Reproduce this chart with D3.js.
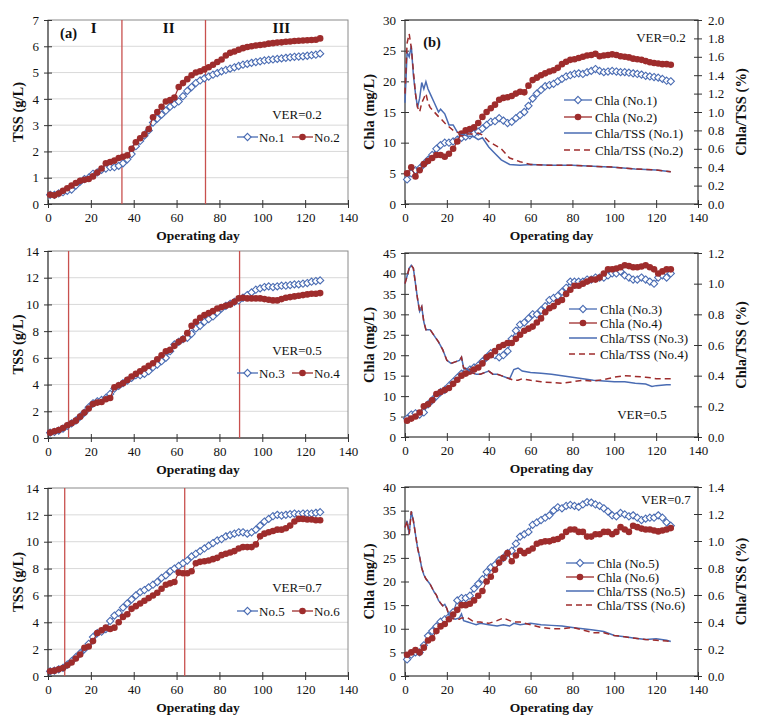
<!DOCTYPE html>
<html><head><meta charset="utf-8">
<script src="https://cdn.jsdelivr.net/npm/d3@7"></script>
<style>body{margin:0;background:#fff}</style>
</head><body><svg id="c" width="767" height="720" xmlns="http://www.w3.org/2000/svg"></svg>
<script>
// ---------- DATA ----------
const days = [1,3,5,7,9,11,13,15,17,19,21,23,25,27,29,31,33,35,37,39,41,43,45,47,49,51,53,55,57,59,61,63,65,67,69,71,73,75,77,79,81,83,85,87,89,91,93,95,97,99,101,103,105,107,109,111,113,115,117,119,121,123,125,127];
const xTicks = [0,20,40,60,80,100,120,140];

// (a) TSS, VER=0.2
const tssNo1 = [0.35,0.35,0.4,0.45,0.5,0.55,0.7,0.85,0.95,1.0,1.15,1.2,1.3,1.35,1.4,1.4,1.45,1.55,1.7,1.9,2.2,2.4,2.6,2.8,3.1,3.25,3.4,3.55,3.7,3.8,3.9,4.1,4.3,4.45,4.6,4.7,4.78,4.85,4.92,4.98,5.05,5.1,5.15,5.2,5.25,5.3,5.33,5.37,5.4,5.43,5.46,5.48,5.5,5.52,5.54,5.56,5.58,5.6,5.61,5.62,5.64,5.66,5.68,5.72];
const tssNo2 = [0.35,0.33,0.4,0.5,0.6,0.7,0.8,0.88,0.92,0.95,1.05,1.2,1.35,1.55,1.6,1.65,1.75,1.8,1.85,2.1,2.35,2.5,2.65,2.85,3.3,3.5,3.7,3.9,3.95,4.05,4.45,4.6,4.75,4.9,5.0,5.05,5.12,5.2,5.3,5.4,5.5,5.65,5.75,5.8,5.87,5.93,5.97,6.0,6.03,6.05,6.07,6.1,6.12,6.14,6.15,6.17,6.18,6.2,6.21,6.22,6.23,6.24,6.25,6.3];
const phaseA = [34.5, 73.5];

// (b) Chla, VER=0.2
const chlaNo1 = [4.0,5.0,5.5,5.8,6.5,7.2,8.0,9.0,9.6,10.0,10.0,10.2,10.5,10.8,11.0,11.2,11.5,11.8,12.3,12.9,13.4,13.5,14.0,13.6,13.2,13.4,14.0,14.5,15.0,16.0,17.2,18.0,18.6,19.2,19.4,19.6,20.0,20.4,20.8,21.0,21.2,21.3,21.2,21.5,21.7,22.0,21.7,21.5,21.6,21.7,21.6,21.5,21.5,21.4,21.3,21.2,21.1,20.9,20.8,20.7,20.6,20.4,20.1,20.0];
const chlaNo2 = [5.0,6.0,4.5,5.5,6.5,7.0,7.5,8.0,8.0,7.7,8.2,9.0,10.2,11.5,12.0,12.2,12.5,13.2,14.2,15.0,15.6,16.2,17.0,17.3,17.4,17.6,18.0,18.3,18.2,19.3,20.2,20.6,21.0,21.3,21.6,21.8,22.2,22.8,23.2,23.5,23.6,23.8,24.0,24.2,24.3,24.5,24.1,24.2,24.3,24.4,24.3,24.1,24.0,23.9,23.7,23.6,23.5,23.3,23.1,23.0,22.9,22.8,22.8,22.7];
const ratioDaysB = [0,1,2,3,4,5,6,7,8,9,10,11,12,14,16,17,19,21,23,25,27,30,33,35,37,40,43,46,50,55,60,70,80,90,100,110,120,127];
const ratioNo1 = [1.1,1.65,1.6,1.72,1.4,1.2,1.05,1.15,1.32,1.25,1.33,1.25,1.2,1.1,1.0,1.03,0.98,0.86,0.86,0.78,0.76,0.74,0.73,0.7,0.72,0.62,0.55,0.48,0.43,0.42,0.43,0.42,0.42,0.41,0.4,0.38,0.37,0.35];
const ratioNo2 = [1.2,1.75,1.85,1.7,1.45,1.2,1.05,1.0,1.1,1.15,1.2,1.1,1.05,1.0,0.95,0.93,0.88,0.84,0.8,0.78,0.77,0.76,0.76,0.77,0.75,0.68,0.64,0.6,0.5,0.46,0.43,0.42,0.42,0.41,0.4,0.38,0.37,0.35];

// (c) TSS, VER=0.5
const tssNo3 = [0.4,0.45,0.55,0.7,0.9,1.1,1.3,1.6,1.9,2.3,2.6,2.75,2.85,3.0,3.3,3.7,3.9,4.1,4.3,4.5,4.7,4.7,4.8,5.0,5.3,5.5,5.75,6.0,6.5,7.0,7.2,7.4,7.5,7.8,8.2,8.4,8.7,8.9,9.1,9.4,9.7,9.9,10.05,10.2,10.3,10.5,10.7,10.9,11.1,11.2,11.3,11.35,11.3,11.35,11.4,11.4,11.45,11.5,11.5,11.55,11.6,11.7,11.75,11.8];
const tssNo4 = [0.4,0.5,0.6,0.75,0.95,1.1,1.3,1.6,1.9,2.2,2.55,2.65,2.7,2.9,3.0,3.8,3.95,4.1,4.35,4.6,4.8,5.0,5.2,5.4,5.6,5.9,6.2,6.5,6.6,6.9,7.2,7.4,7.85,8.4,8.7,9.0,9.2,9.35,9.5,9.7,9.8,9.9,10.0,10.2,10.45,10.5,10.45,10.45,10.45,10.45,10.4,10.35,10.3,10.3,10.4,10.5,10.55,10.6,10.65,10.7,10.75,10.8,10.8,10.85];
const phaseC = [9.6, 89.4];

// (d) Chla, VER=0.5
const chlaNo3 = [4.5,5.5,5.8,5.5,6.0,8.0,9.0,10.0,11.0,11.5,12.5,13.5,14.5,15.5,16.0,16.5,17.0,17.5,18.5,19.5,20.5,20.0,19.5,20.0,21.0,24.0,26.0,27.5,28.0,29.0,30.0,30.0,31.0,32.0,33.5,34.0,34.5,35.5,36.5,38.0,38.0,38.0,38.0,38.5,38.5,39.0,39.0,39.0,39.5,40.0,40.0,40.5,39.5,39.0,38.5,38.5,39.0,38.5,38.0,37.5,39.0,39.5,39.0,40.0];
const chlaNo4 = [4.0,4.5,5.0,6.0,7.5,8.0,9.0,10.5,11.0,11.5,12.0,13.0,14.0,15.0,15.5,16.0,16.5,17.0,18.0,19.5,20.0,21.0,22.0,22.5,23.0,23.0,24.0,25.0,26.0,26.5,27.0,28.0,29.0,30.5,31.5,32.0,33.0,33.5,35.0,36.0,37.0,37.0,37.5,38.0,38.5,38.5,39.0,40.0,41.0,41.0,41.2,41.5,42.0,41.8,41.5,41.5,41.7,42.0,41.5,41.0,40.0,40.5,41.0,41.0];
const ratioDaysD = [0,1,2,3,4,5,6,7,8,9,10,12,14,16,18,20,22,24,26,27,28,30,32,34,36,38,40,42,44,46,48,50,52,54,56,60,65,70,75,80,85,90,95,100,105,110,115,118,120,125,127];
const ratioNo3 = [1.0,1.05,1.1,1.12,1.1,1.0,0.9,0.82,0.85,0.75,0.7,0.7,0.66,0.62,0.57,0.5,0.48,0.49,0.5,0.52,0.45,0.44,0.42,0.41,0.41,0.42,0.43,0.41,0.41,0.4,0.39,0.38,0.44,0.45,0.43,0.42,0.415,0.41,0.4,0.39,0.38,0.37,0.365,0.36,0.36,0.35,0.345,0.33,0.335,0.34,0.34];
const ratioNo4 = [1.0,1.05,1.1,1.12,1.1,1.0,0.9,0.82,0.85,0.75,0.7,0.7,0.66,0.62,0.57,0.5,0.48,0.49,0.5,0.52,0.45,0.44,0.42,0.41,0.41,0.42,0.43,0.41,0.41,0.4,0.39,0.38,0.37,0.37,0.38,0.37,0.36,0.355,0.35,0.36,0.37,0.365,0.375,0.39,0.4,0.395,0.39,0.385,0.38,0.38,0.38];

// (e) TSS, VER=0.7
const tssNo5 = [0.35,0.4,0.5,0.6,0.85,1.1,1.4,1.7,2.0,2.4,2.9,3.2,3.3,3.5,4.1,4.5,4.7,5.1,5.4,5.7,6.0,6.25,6.4,6.6,6.8,7.0,7.3,7.5,7.8,8.0,8.2,8.4,8.6,8.9,9.1,9.3,9.5,9.7,9.9,10.1,10.2,10.4,10.5,10.6,10.7,10.7,10.6,10.7,10.9,11.2,11.5,11.7,11.9,12.0,11.95,12.0,12.05,12.1,12.05,12.1,12.1,12.1,12.15,12.2];
const tssNo6 = [0.35,0.4,0.5,0.6,0.8,1.0,1.3,1.6,2.1,2.2,2.6,3.2,3.4,3.6,3.5,3.6,4.0,4.4,4.6,5.0,5.2,5.4,5.6,5.8,6.0,6.2,6.5,6.8,6.9,7.0,7.7,7.65,7.65,7.8,8.4,8.5,8.55,8.6,8.7,8.8,9.0,9.1,9.2,9.3,9.5,9.6,9.6,9.6,9.8,10.4,10.6,10.7,10.8,10.9,10.9,11.0,11.2,11.5,11.7,11.7,11.65,11.65,11.6,11.6];
const phaseE = [7.8, 63.8];

// (f) Chla, VER=0.7
const chlaNo5 = [3.5,4.5,5.0,5.0,6.5,8.5,9.5,10.5,11.5,12.0,12.5,13.5,16.0,16.5,16.5,17.0,18.5,19.5,20.5,22.0,23.0,23.5,24.5,25.0,26.0,26.5,28.0,29.5,30.0,30.5,32.0,32.5,33.0,33.5,34.0,35.0,35.7,35.5,36.0,36.2,36.0,35.8,36.3,36.8,36.7,36.3,36.0,35.5,34.8,34.0,33.8,34.5,34.2,33.8,34.0,33.5,33.0,33.3,33.5,33.5,34.0,33.5,32.5,31.8];
const chlaNo6 = [4.5,5.0,5.5,5.0,6.0,7.5,8.0,9.5,10.5,11.0,12.0,13.0,14.0,15.0,15.0,15.3,16.0,17.0,18.0,20.0,21.0,22.5,24.0,25.0,26.0,24.3,25.5,26.5,26.0,26.5,27.0,28.0,28.3,28.5,28.5,28.8,29.0,29.5,30.5,31.0,31.0,30.5,30.5,29.5,29.5,30.0,30.0,30.5,30.5,30.0,30.5,31.5,31.0,30.5,31.8,31.5,31.2,31.0,31.0,30.8,30.6,30.8,31.0,31.3];
const ratioDaysF = [0,1,2,3,4,5,6,7,8,9,10,11,12,13,14,15,16,17,18,19,20,21,22,24,26,27,28,30,32,34,36,40,44,47,50,52,55,60,65,70,75,80,85,90,95,100,105,110,115,120,125,127];
const ratioNo5 = [1.1,1.15,1.05,1.22,1.15,1.05,0.95,0.88,0.8,0.75,0.72,0.7,0.68,0.65,0.62,0.6,0.56,0.54,0.52,0.53,0.5,0.45,0.43,0.42,0.43,0.46,0.41,0.4,0.39,0.38,0.39,0.38,0.37,0.38,0.37,0.39,0.38,0.39,0.38,0.375,0.37,0.36,0.35,0.34,0.33,0.3,0.29,0.28,0.27,0.275,0.265,0.255];
const ratioNo6 = [1.1,1.15,1.05,1.22,1.15,1.05,0.95,0.88,0.8,0.75,0.72,0.7,0.68,0.65,0.62,0.6,0.56,0.54,0.52,0.53,0.5,0.45,0.43,0.42,0.42,0.43,0.43,0.43,0.41,0.4,0.4,0.39,0.41,0.43,0.41,0.4,0.4,0.38,0.36,0.35,0.35,0.36,0.34,0.32,0.32,0.3,0.29,0.28,0.27,0.265,0.26,0.255];

// ---------- STYLE ----------
const BLUE = "#4a6cb3", RED = "#9e2c2c", VLINE = "#c8504e";
const SERIF = "'Liberation Serif','Times New Roman',serif";
const svg = d3.select("#c");
svg.append("rect").attr("width",767).attr("height",720).attr("fill","#fff");

const diamond = "M0,-3.6L3.6,0L0,3.6L-3.6,0Z";
function markerBlue(g, x, y){ g.append("path").attr("d",diamond).attr("transform",`translate(${x},${y})`).attr("fill","#fff").attr("stroke",BLUE).attr("stroke-width",1.1); }
function markerRed(g, x, y){ g.append("circle").attr("cx",x).attr("cy",y).attr("r",3.3).attr("fill",RED); }

function xAxis(g, x, yb){
  const ax = g.append("g").attr("transform",`translate(0,${yb})`)
    .call(d3.axisBottom(x).tickValues(xTicks).tickSize(4).tickPadding(5).tickSizeOuter(0));
  ax.select(".domain").remove();
  ax.selectAll(".tick line").attr("y1",-4).attr("stroke","#333");
  ax.selectAll("text").attr("font-family",SERIF).attr("font-size",13).attr("fill","#111");
}
function yAxisL(g, y, x0, ticks, fmt){
  const ax = g.append("g").attr("transform",`translate(${x0},0)`)
    .call(d3.axisLeft(y).tickValues(ticks).tickSize(4).tickPadding(5).tickFormat(fmt||d3.format("d")));
  ax.select(".domain").remove();
  ax.selectAll(".tick line").attr("x1",4).attr("stroke","#333");
  ax.selectAll("text").attr("font-family",SERIF).attr("font-size",13).attr("fill","#111");
}
function yAxisR(g, y, x1, ticks){
  const ax = g.append("g").attr("transform",`translate(${x1},0)`)
    .call(d3.axisRight(y).tickValues(ticks).tickSize(4).tickPadding(6).tickFormat(d3.format(".1f")));
  ax.select(".domain").remove();
  ax.selectAll(".tick line").attr("x1",-4).attr("stroke","#333");
  ax.selectAll("text").attr("font-family",SERIF).attr("font-size",13).attr("fill","#111");
}
function boldText(g, x, y, t, size, rot){
  const el = g.append("text").attr("font-family",SERIF).attr("font-weight","bold").attr("font-size",size)
    .attr("text-anchor","middle").attr("fill","#111").text(t);
  if (rot) el.attr("transform",`translate(${x},${y}) rotate(-90)`).attr("dy","0.35em");
  else el.attr("x",x).attr("y",y).attr("dy","0.35em");
  return el;
}
function plainText(g, x, y, t, anchor){
  return g.append("text").attr("x",x).attr("y",y).attr("dy","0.35em").attr("font-family",SERIF)
    .attr("font-size",13).attr("text-anchor",anchor||"middle").attr("fill","#111").text(t);
}

// ---------- TSS PANEL ----------
function tssPanel(p){
  const g = svg.append("g");
  const x = d3.scaleLinear([0,140],[p.x0,p.x1]);
  const y = d3.scaleLinear([0,p.ymax],[p.yb,p.yt]);
  const ticks = d3.range(0,p.ymax+0.001,p.step);
  ticks.filter(t=>t>0 && t<p.ymax).forEach(t=>{
    g.append("line").attr("x1",p.x0).attr("x2",p.x1).attr("y1",y(t)).attr("y2",y(t)).attr("stroke","#d9d9d9").attr("stroke-width",1);
  });
  g.append("rect").attr("x",p.x0).attr("y",p.yt).attr("width",p.x1-p.x0).attr("height",p.yb-p.yt)
    .attr("fill","none").attr("stroke","#8a8a8a").attr("stroke-width",1);
  g.append("line").attr("x1",p.x0).attr("x2",p.x0).attr("y1",p.yt).attr("y2",p.yb).attr("stroke","#555").attr("stroke-width",1.3);
  g.append("line").attr("x1",p.x0).attr("x2",p.x1).attr("y1",p.yb).attr("y2",p.yb).attr("stroke","#555").attr("stroke-width",1.3);
  p.phase.forEach(d=>{
    g.append("line").attr("x1",x(d)).attr("x2",x(d)).attr("y1",p.yt).attr("y2",p.yb).attr("stroke",VLINE).attr("stroke-width",1.3);
  });
  yAxisL(g, y, p.x0, ticks);
  xAxis(g, x, p.yb);
  const line = d3.line().x((d,i)=>x(days[i])).y(d=>y(d));
  g.append("path").attr("d",line(p.s1)).attr("fill","none").attr("stroke",BLUE).attr("stroke-width",1.2);
  p.s1.forEach((v,i)=>markerBlue(g, x(days[i]), y(v)));
  g.append("path").attr("d",line(p.s2)).attr("fill","none").attr("stroke",RED).attr("stroke-width",1.2);
  p.s2.forEach((v,i)=>markerRed(g, x(days[i]), y(v)));
  // titles
  boldText(g, (p.x0+p.x1)/2, p.yb+31, "Operating day", 13.5);
  boldText(g, 18, (p.yt+p.yb)/2, "TSS (g/L)", 14.5, true);
  // VER + legend
  plainText(g, 297, p.verY, p.ver);
  g.append("line").attr("x1",237).attr("x2",258).attr("y1",p.legY).attr("y2",p.legY).attr("stroke",BLUE).attr("stroke-width",1.3);
  markerBlue(g, 247.5, p.legY);
  plainText(g, 259, p.legY, p.names[0], "start");
  g.append("line").attr("x1",292).attr("x2",313).attr("y1",p.legY).attr("y2",p.legY).attr("stroke",RED).attr("stroke-width",1.3);
  markerRed(g, 302.5, p.legY);
  plainText(g, 314, p.legY, p.names[1], "start");
  return {g,x,y};
}

// ---------- CHLA PANEL ----------
function chlaPanel(p){
  const g = svg.append("g");
  const x = d3.scaleLinear([0,140],[p.x0,p.x1]);
  const y = d3.scaleLinear([0,p.lmax],[p.yb,p.yt]);
  const yr = d3.scaleLinear([0,p.rmax],[p.yb,p.yt]);
  g.append("rect").attr("x",p.x0).attr("y",p.yt).attr("width",p.x1-p.x0).attr("height",p.yb-p.yt)
    .attr("fill","none").attr("stroke","#444").attr("stroke-width",1.3);
  yAxisL(g, y, p.x0, d3.range(0,p.lmax+0.001,p.lstep));
  yAxisR(g, yr, p.x1, d3.range(0,p.rmax+0.0001,0.2).map(v=>+v.toFixed(1)));
  xAxis(g, x, p.yb);
  const line = d3.line().x((d,i)=>x(days[i])).y(d=>y(d));
  g.append("path").attr("d",line(p.c1)).attr("fill","none").attr("stroke",BLUE).attr("stroke-width",1.2);
  p.c1.forEach((v,i)=>markerBlue(g, x(days[i]), y(v)));
  g.append("path").attr("d",line(p.c2)).attr("fill","none").attr("stroke",RED).attr("stroke-width",1.2);
  p.c2.forEach((v,i)=>markerRed(g, x(days[i]), y(v)));
  const rline = d3.line().x((d,i)=>x(p.rd[i])).y(d=>yr(d));
  g.append("path").attr("d",rline(p.r1)).attr("fill","none").attr("stroke",BLUE).attr("stroke-width",1.5);
  g.append("path").attr("d",rline(p.r2)).attr("fill","none").attr("stroke",RED).attr("stroke-width",1.5).attr("stroke-dasharray","6,4");
  boldText(g, (p.x0+p.x1)/2, p.yb+31, "Operating day", 13.5);
  boldText(g, 369, (p.yt+p.yb)/2, "Chla (mg/L)", 14.5, true);
  boldText(g, 741, (p.yt+p.yb)/2, "Chla/TSS (%)", 14.5, true);
  plainText(g, p.verX, p.verY, p.ver);
  // legend
  const L = p.leg, lx = L.x, lx2 = L.x+28, tx = L.x+31;
  const rows = L.rows;
  g.append("line").attr("x1",lx).attr("x2",lx2).attr("y1",rows[0]).attr("y2",rows[0]).attr("stroke",BLUE).attr("stroke-width",1.3);
  markerBlue(g,(lx+lx2)/2,rows[0]);
  g.append("line").attr("x1",lx).attr("x2",lx2).attr("y1",rows[1]).attr("y2",rows[1]).attr("stroke",RED).attr("stroke-width",1.3);
  markerRed(g,(lx+lx2)/2,rows[1]);
  g.append("line").attr("x1",lx).attr("x2",lx2).attr("y1",rows[2]).attr("y2",rows[2]).attr("stroke",BLUE).attr("stroke-width",1.5);
  g.append("line").attr("x1",lx).attr("x2",lx2).attr("y1",rows[3]).attr("y2",rows[3]).attr("stroke",RED).attr("stroke-width",1.5).attr("stroke-dasharray","6,4");
  p.names.forEach((t,i)=>plainText(g, tx, rows[i], t, "start"));
  return {g,x,y};
}

// ---------- BUILD ----------
const A = tssPanel({x0:48,x1:348,yt:20,yb:204,ymax:7,step:1,s1:tssNo1,s2:tssNo2,phase:phaseA,ver:"VER=0.2",verY:114,legY:137,names:["No.1","No.2"]});
boldText(A.g, A.x(9.6), A.y(6.5), "(a)", 14.5);
boldText(A.g, A.x(21.3), 28, "I", 15);
boldText(A.g, A.x(56.3), 28, "II", 15);
boldText(A.g, A.x(108.9), 28, "III", 15);

tssPanel({x0:48,x1:348,yt:251,yb:438,ymax:14,step:2,s1:tssNo3,s2:tssNo4,phase:phaseC,ver:"VER=0.5",verY:350,legY:373,names:["No.3","No.4"]});
tssPanel({x0:48,x1:348,yt:488,yb:676,ymax:14,step:2,s1:tssNo5,s2:tssNo6,phase:phaseE,ver:"VER=0.7",verY:587,legY:611,names:["No.5","No.6"]});

const B = chlaPanel({x0:405,x1:698,yt:20,yb:204,lmax:30,lstep:5,rmax:2.0,c1:chlaNo1,c2:chlaNo2,rd:ratioDaysB,r1:ratioNo1,r2:ratioNo2,
  ver:"VER=0.2",verX:661,verY:37,leg:{x:564,rows:[100,117,133,150]},names:["Chla (No.1)","Chla (No.2)","Chla/TSS (No.1)","Chla/TSS (No.2)"]});
boldText(B.g, 432, 42, "(b)", 14.5);
chlaPanel({x0:405,x1:698,yt:253,yb:437,lmax:45,lstep:5,rmax:1.2,c1:chlaNo3,c2:chlaNo4,rd:ratioDaysD,r1:ratioNo3,r2:ratioNo4,
  ver:"VER=0.5",verX:642,verY:414,leg:{x:569,rows:[309,323,338,354]},names:["Chla (No.3)","Chla (No.4)","Chla/TSS (No.3)","Chla/TSS (No.4)"]});
chlaPanel({x0:405,x1:698,yt:487,yb:676,lmax:40,lstep:5,rmax:1.4,c1:chlaNo5,c2:chlaNo6,rd:ratioDaysF,r1:ratioNo5,r2:ratioNo6,
  ver:"VER=0.7",verX:666,verY:499,leg:{x:566,rows:[563,577,591,605]},names:["Chla (No.5)","Chla (No.6)","Chla/TSS (No.5)","Chla/TSS (No.6)"]});
</script>
</body></html>
